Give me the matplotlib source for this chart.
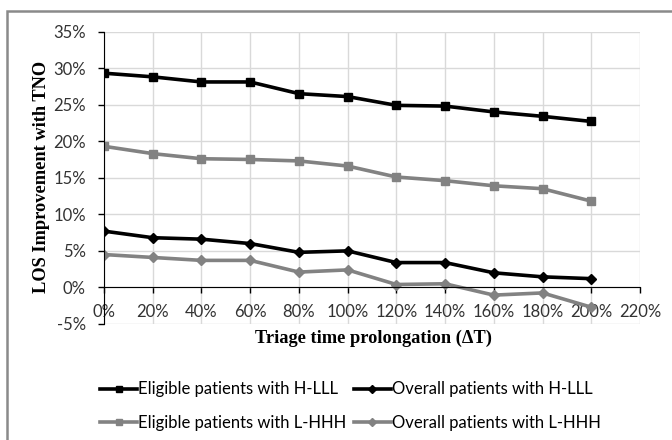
import matplotlib
matplotlib.use("Agg")
import matplotlib.pyplot as plt
from matplotlib.patches import Rectangle
from matplotlib.ticker import FuncFormatter, MultipleLocator

x_pct = [0, 20, 40, 60, 80, 100, 120, 140, 160, 180, 200]
eligible_hlll = [29.3, 28.8, 28.1, 28.1, 26.5, 26.1, 24.9, 24.8, 24.0, 23.4, 22.7]
overall_hlll = [7.7, 6.8, 6.6, 6.0, 4.8, 5.0, 3.4, 3.4, 2.0, 1.45, 1.2]
eligible_lhhh = [19.3, 18.3, 17.6, 17.5, 17.3, 16.6, 15.1, 14.6, 13.9, 13.5, 11.8]
overall_lhhh = [4.5, 4.1, 3.7, 3.7, 2.1, 2.4, 0.4, 0.5, -1.05, -0.75, -2.7]

labels = ["Eligible patients with H-LLL", "Overall patients with H-LLL",
          "Eligible patients with L-HHH", "Overall patients with L-HHH"]

plt.rcParams['font.family'] = ['Lato', 'DejaVu Sans']

fig = plt.figure(figsize=(6.72, 4.4), dpi=100)
fig.patches.append(Rectangle((7/672, -0.1), 1.2, (440-11)/440 + 0.1,
                             transform=fig.transFigure, fill=False,
                             edgecolor='#8a8a8a', linewidth=1.8))

ax = fig.add_axes([104/672, 1-324/440, (640-104)/672, (324-31.5)/440])

black = '#000000'
gray = '#828282'
lw = 2.6
l1, = ax.plot(x_pct, eligible_hlll, color=black, lw=lw, marker='s', ms=6.2, label=labels[0])
l2, = ax.plot(x_pct, overall_hlll, color=black, lw=lw, marker='D', ms=4.8, label=labels[1])
l3, = ax.plot(x_pct, eligible_lhhh, color=gray, lw=lw, marker='s', ms=6.2, label=labels[2])
l4, = ax.plot(x_pct, overall_lhhh, color=gray, lw=lw, marker='D', ms=4.8, label=labels[3])

ax.set_xlim(0, 220)
ax.set_ylim(-5, 35)
ax.xaxis.set_major_locator(MultipleLocator(20))
ax.yaxis.set_major_locator(MultipleLocator(5))
ax.xaxis.set_major_formatter(FuncFormatter(lambda v, p: f"{int(round(v))}%"))
ax.yaxis.set_major_formatter(FuncFormatter(lambda v, p: f"{int(round(v))}%"))
ax.grid(True, color='#d9d9d9', lw=1.0)
ax.set_axisbelow(True)

ax.spines['bottom'].set_position(('data', 0))
ax.spines['bottom'].set_color('#000000')
ax.spines['left'].set_color('#000000')
ax.spines['top'].set_visible(False)
ax.spines['right'].set_visible(False)
ax.tick_params(axis='both', colors='#000000', labelsize=12, length=4, width=1)
ax.tick_params(axis='x', pad=8)
ax.tick_params(axis='y', pad=9)
for lab in ax.get_xticklabels() + ax.get_yticklabels():
    lab.set_color('#333333')

fig.text(42/672, 1-177/440, "LOS Improvement with TNO", rotation=90,
         ha='center', va='center', fontsize=13.2, fontweight='bold',
         family=['Liberation Serif'])
fig.text(373/672, 1-338/440, "Triage time prolongation (\u0394T)",
         ha='center', va='center', fontsize=13.2, fontweight='bold',
         family=['Liberation Serif'])

fig.legend([l1, l3, l2, l4], [labels[0], labels[2], labels[1], labels[3]],
           ncol=2, loc='upper left', bbox_to_anchor=(92/672, 1-373/440),
           frameon=False, fontsize=12, handlelength=2.2, handletextpad=0.08,
           columnspacing=0.45, labelspacing=1.05, borderpad=0, markerscale=0.8)

fig.savefig("out.png", dpi=100)
